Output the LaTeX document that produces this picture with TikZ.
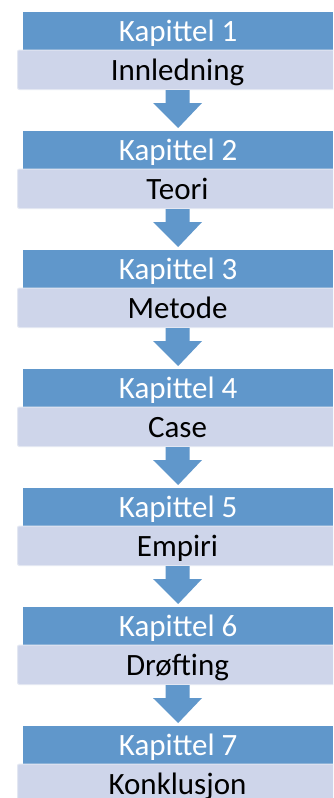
\documentclass[tikz,border=0pt]{standalone}
\usepackage{fontspec}
\setmainfont{Carlito}
\definecolor{barblue}{HTML}{6097CB}
\definecolor{barlight}{HTML}{CED5EA}
\definecolor{baredge}{HTML}{E3E7F2}
\begin{document}
\begin{tikzpicture}[x=1pt,y=-1pt,
  top/.style={fill=barblue, draw=none, minimum width=310pt, minimum height=37.5pt, inner sep=0pt, text height=22pt, text depth=1.5pt, text=white, font=\fontsize{31}{34}\selectfont, anchor=north west},
  sub/.style={fill=barlight, draw=baredge, line width=1pt, rounded corners=2pt, minimum width=320pt, minimum height=39.5pt, inner sep=0pt, text height=23pt, text depth=1.5pt, text=black, font=\fontsize{31}{34}\selectfont, anchor=north west},
  flowarrow/.style={fill=barblue, draw=none}]
\useasboundingbox (0,0) rectangle (333,798);
\clip (0,0) rectangle (333,798);
\foreach \i/\t in {1/Innledning,2/Teori,3/Metode,4/Case,5/Empiri,6/Drøfting,7/Konklusjon}{
  \pgfmathsetmacro{\yy}{12+119*(\i-1)}
  \node[top] (k\i) at (23,\yy) {Kapittel \i};
  \node[sub] (s\i) at (17,\yy+37.5) {\t};
}
\foreach \i in {1,...,6}{
  \pgfmathtruncatemacro{\j}{\i+1}
  \fill[flowarrow] ([xshift=-12pt]s\i.south) -- ([xshift=-12pt,yshift=-13pt]s\i.south) -- ([xshift=-24.5pt,yshift=-13pt]s\i.south) -- ([yshift=3pt]k\j.north) -- ([xshift=24.5pt,yshift=-13pt]s\i.south) -- ([xshift=12pt,yshift=-13pt]s\i.south) -- ([xshift=12pt]s\i.south) -- cycle;
}
\end{tikzpicture}
\end{document}
